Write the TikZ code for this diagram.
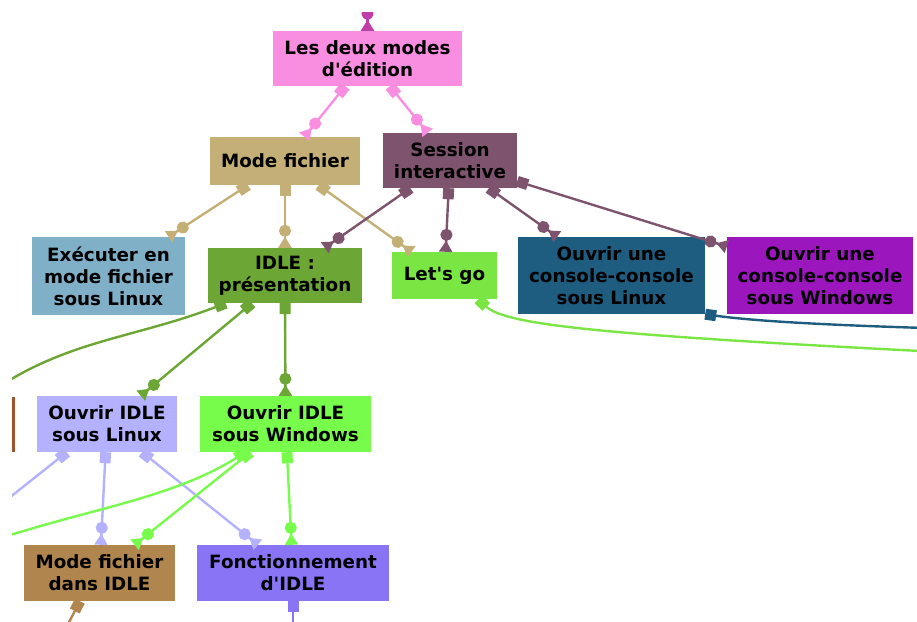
\documentclass[tikz,border=0pt]{standalone}
\usepackage{fontspec}
\setmainfont{DejaVu Sans}
\usetikzlibrary{arrows.meta}

\definecolor{cLesDeux}{RGB}{249,141,224}
\definecolor{cTopIn}{RGB}{192,62,170}
\definecolor{cModeF}{RGB}{196,176,118}
\definecolor{cSession}{RGB}{125,83,110}
\definecolor{cExec}{RGB}{128,176,200}
\definecolor{cIdle}{RGB}{108,166,52}
\definecolor{cLetsGo}{RGB}{122,230,68}
\definecolor{cConsL}{RGB}{30,92,128}
\definecolor{cConsW}{RGB}{156,22,190}
\definecolor{cIdleL}{RGB}{180,178,254}
\definecolor{cIdleW}{RGB}{120,252,76}
\definecolor{cModeIdle}{RGB}{176,134,78}
\definecolor{cFonct}{RGB}{138,116,246}
\definecolor{cSienna}{RGB}{160,82,45}

\newcommand{\apos}{\textquotesingle}

\tikzset{
  box/.style  = {rectangle, inner sep=0pt, align=center,
                 font=\bfseries\fontsize{18.3}{22}\selectfont},
  link/.style = {line width=2.4pt,
                 {Square[length=11pt,sep=0pt]}-{Circle[length=12pt,sep=0pt]Triangle[reversed,length=11pt,width=13pt,sep=0pt]}},
  tail/.style = {line width=2.4pt, {Square[length=11pt,sep=0pt]}-},
  head/.style = {line width=2.4pt, -{Circle[length=12pt,sep=0pt]Triangle[reversed,length=11pt,width=13pt,sep=0pt]}}
}

\begin{document}
\begin{tikzpicture}[x=1pt,y=-1pt]
   \useasboundingbox (0,0) rectangle (917,621);
   \clip (12,12) rectangle (917,621);
   \node[box, fill=cLesDeux,   minimum width=189pt, minimum height=55pt] (lesdeux)      at (367.5,58.5) {Les deux modes\\d\apos édition};
   \node[box, fill=cModeF,     minimum width=150pt, minimum height=48pt] (modefichier)  at (285,161)    {Mode fichier};
   \node[box, fill=cSession,   minimum width=134pt, minimum height=55pt] (session)      at (450,160.5)  {Session\\interactive};
   \node[box, fill=cExec,      minimum width=153pt, minimum height=78pt] (executer)     at (108.5,276)  {Exécuter en\\mode fichier\\sous Linux};
   \node[box, fill=cIdle,      minimum width=154pt, minimum height=55pt] (idle)         at (285,275.5)  {IDLE :\\présentation};
   \node[box, fill=cLetsGo,    minimum width=105pt, minimum height=47pt] (letsgo)       at (444.5,275.5){Let\apos s go};
   \node[box, fill=cConsL,     minimum width=187pt, minimum height=77pt] (consolelinux) at (611.5,275.5){Ouvrir une\\console-console\\sous Linux};
   \node[box, fill=cConsW,     minimum width=186pt, minimum height=77pt] (consolewin)   at (820,275.5)  {Ouvrir une\\console-console\\sous Windows};
   \node[box, fill=cIdleL,     minimum width=140pt, minimum height=56pt] (idlelinux)    at (107,424)    {Ouvrir IDLE\\sous Linux};
   \node[box, fill=cIdleW,     minimum width=171pt, minimum height=56pt] (idlewin)      at (285.5,424)  {Ouvrir IDLE\\sous Windows};
   \node[box, fill=cModeIdle,  minimum width=151pt, minimum height=56pt] (modeidle)     at (99.5,573)   {Mode fichier\\dans IDLE};
   \node[box, fill=cFonct,     minimum width=192pt, minimum height=56pt] (fonction)     at (293,573)    {Fonctionnement\\d\apos IDLE};
   \node[box, fill=cSienna,    minimum width=60pt,  minimum height=55pt] (leftbox)      at (-15,424.5)  {};
   % ends outside the frame
   \coordinate (topin)      at (367.5,-30);
   \coordinate (offidle)    at (-20,400);
   \coordinate (offletsgo)  at (960,353);
   \coordinate (offconsole) at (960,329);
   \coordinate (offidlew)   at (-20,545);
   \coordinate (offidlel)   at (-20,521);
   \coordinate (offmode)    at (60,640);
   \coordinate (offfonct)   at (293,650);
   \draw[head, cTopIn]   (topin) -- (lesdeux);
   \draw[link, cLesDeux] (lesdeux) -- (modefichier);
   \draw[link, cLesDeux] (lesdeux) -- (session);
   \draw[link, cModeF]   (modefichier) -- (executer);
   \draw[link, cModeF]   (modefichier) -- (idle);
   \draw[link, cModeF]   (modefichier) -- (letsgo);
   \draw[link, cSession] (session) -- (idle);
   \draw[link, cSession] (session) -- (letsgo);
   \draw[link, cSession] (session) -- (consolelinux);
   \draw[link, cSession] (session) -- (consolewin);
   \draw[link, cIdle]    (idle) -- (idlelinux);
   \draw[link, cIdle]    (idle) -- (idlewin);
   \draw[tail, cIdle]    (idle.205) .. controls (130,340) and (60,340) .. (offidle);
   \draw[tail, cLetsGo]  (letsgo.-35) .. controls (505,325) and (600,335) .. (offletsgo);
   \draw[tail, cConsL]   (consolelinux.south east) .. controls (760,322) and (850,326) .. (offconsole);
   \draw[link, cIdleL]   (idlelinux) -- (modeidle);
   \draw[link, cIdleL]   (idlelinux) -- (fonction);
   \draw[tail, cIdleL]   (idlelinux.215) -- (offidlel);
   \draw[link, cIdleW]   (idlewin) -- (modeidle);
   \draw[link, cIdleW]   (idlewin) -- (fonction);
   \draw[tail, cIdleW]   (idlewin.215) .. controls (170,500) and (80,510) .. (offidlew);
   \draw[tail, cModeIdle] (modeidle.235) -- (offmode);
   \draw[tail, cFonct]   (fonction) -- (offfonct);
\end{tikzpicture}
\end{document}
